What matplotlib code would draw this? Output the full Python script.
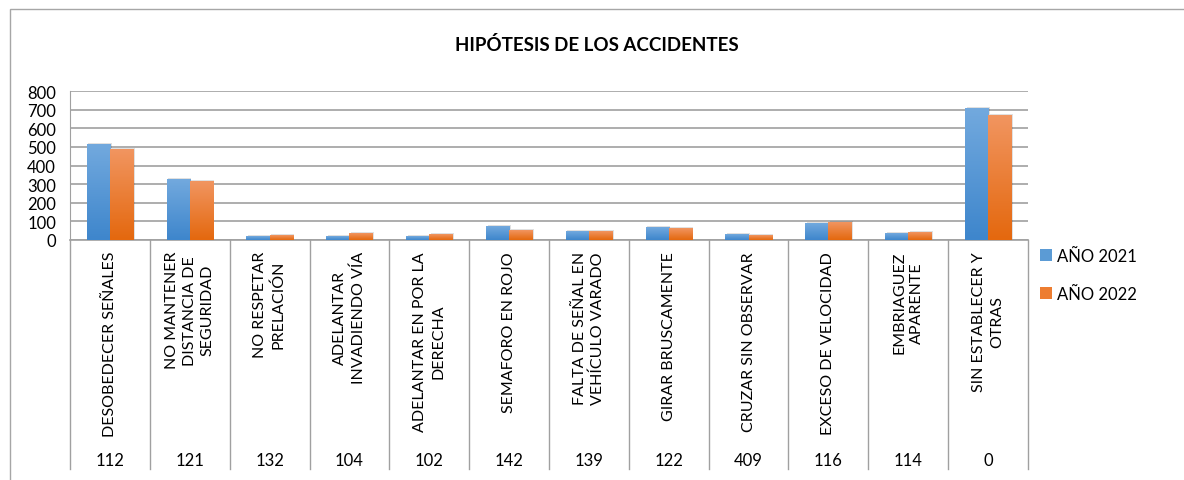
import numpy as np
import matplotlib
matplotlib.use("Agg")
import matplotlib.pyplot as plt
from matplotlib.colors import LinearSegmentedColormap
from matplotlib.patches import Rectangle
from matplotlib.lines import Line2D

plt.rcParams['font.family'] = ['Lato', 'DejaVu Sans']

categorias = [
    "DESOBEDECER SEÑALES",
    "NO MANTENER\nDISTANCIA DE\nSEGURIDAD",
    "NO RESPETAR\nPRELACIÓN",
    "ADELANTAR\nINVADIENDO VÍA",
    "ADELANTAR EN POR LA\nDERECHA",
    "SEMAFORO EN ROJO",
    "FALTA DE SEÑAL EN\nVEHÍCULO VARADO",
    "GIRAR BRUSCAMENTE",
    "CRUZAR SIN OBSERVAR",
    "EXCESO DE VELOCIDAD",
    "EMBRIAGUEZ\nAPARENTE",
    "SIN ESTABLECER Y\nOTRAS",
]
codigos = ["112", "121", "132", "104", "102", "142", "139", "122", "409", "116", "114", "0"]
anio_2021 = [516, 327, 20, 20, 20, 74, 47, 68, 31, 90, 36, 710]
anio_2022 = [489, 316, 25, 36, 31, 52, 47, 63, 25, 95, 41, 672]
series = ["AÑO 2021", "AÑO 2022"]

W, H = 1184, 481
fig = plt.figure(figsize=(W / 100, H / 100), dpi=100)

# outer chart border
fig.add_artist(Rectangle((10 / W, -0.1), 1.2, 1 - 10 / H + 0.1, transform=fig.transFigure,
                         fill=False, edgecolor="#A6A6A6", linewidth=1))

left, right, top, bottom = 70, 1028, 92.3, 240.7
ax = fig.add_axes([left / W, 1 - bottom / H, (right - left) / W, (bottom - top) / H])

blue_cmap = LinearSegmentedColormap.from_list("b", ["#3E86CC", "#72A9DE"])
orange_cmap = LinearSegmentedColormap.from_list("o", ["#E4680E", "#F19560"])
grad = np.linspace(0, 1, 100).reshape(-1, 1)

n = len(categorias)
x = np.arange(n)
bw = 0.29
for i in range(n):
    for val, off, cm in ((anio_2021[i], -bw, blue_cmap), (anio_2022[i], 0, orange_cmap)):
        x0 = x[i] + off
        # soft shadow
        ax.add_patch(Rectangle((x0 + 0.02, 0), bw, val + 4, facecolor="#000000", alpha=0.12,
                               edgecolor="none", zorder=2))
        ax.imshow(grad, extent=[x0, x0 + bw, 0, val], origin="lower", aspect="auto",
                  cmap=cm, zorder=3)

ax.set_xlim(-0.5, n - 0.5)
ax.set_ylim(0, 800)
ax.set_yticks(range(0, 801, 100))
ax.yaxis.grid(True, color="#A0A0A0", linewidth=1.2)
ax.set_axisbelow(True)
for s in ["top", "right", "bottom"]:
    ax.spines[s].set_visible(False)
ax.spines["left"].set_color("#A0A0A0")
ax.tick_params(axis="y", length=0, labelsize=12, pad=10)
ax.set_xticks([])

# table below the axis
tr = ax.get_xaxis_transform()
table_bottom = -(470 - bottom) / (bottom - top)
ax.add_line(Line2D([-0.5, n - 0.5], [0, 0], transform=tr, color="#A0A0A0", linewidth=1.2, clip_on=False))
for b in np.arange(-0.5, n, 1.0):
    ax.add_line(Line2D([b, b], [0, table_bottom], transform=tr, color="#A0A0A0", linewidth=1,
                       clip_on=False))
label_top = -(252 - bottom) / (bottom - top)
code_y = -(461 - bottom) / (bottom - top)
for i in range(n):
    ax.text(x[i], label_top, categorias[i], transform=tr, rotation=90, ha="center", va="top",
            multialignment="center", fontsize=11.5, linespacing=1.35, clip_on=False)
    ax.text(x[i], code_y, codigos[i], transform=tr, ha="center", va="center",
            fontsize=12, clip_on=False)

fig.text(597 / W, 1 - 45 / H, "HIPÓTESIS DE LOS ACCIDENTES", ha="center", va="center",
         fontsize=13.5, fontweight="bold")

handles = [Rectangle((0, 0), 1, 1, facecolor="#5B9BD5"), Rectangle((0, 0), 1, 1, facecolor="#ED7D31")]
fig.legend(handles, series, loc="upper left", bbox_to_anchor=(1025 / W, 1 - 234 / H),
           frameon=False, fontsize=12, handlelength=0.7, handleheight=0.7, handletextpad=0.3,
           labelspacing=1.3)

fig.savefig("out.png", dpi=100)
